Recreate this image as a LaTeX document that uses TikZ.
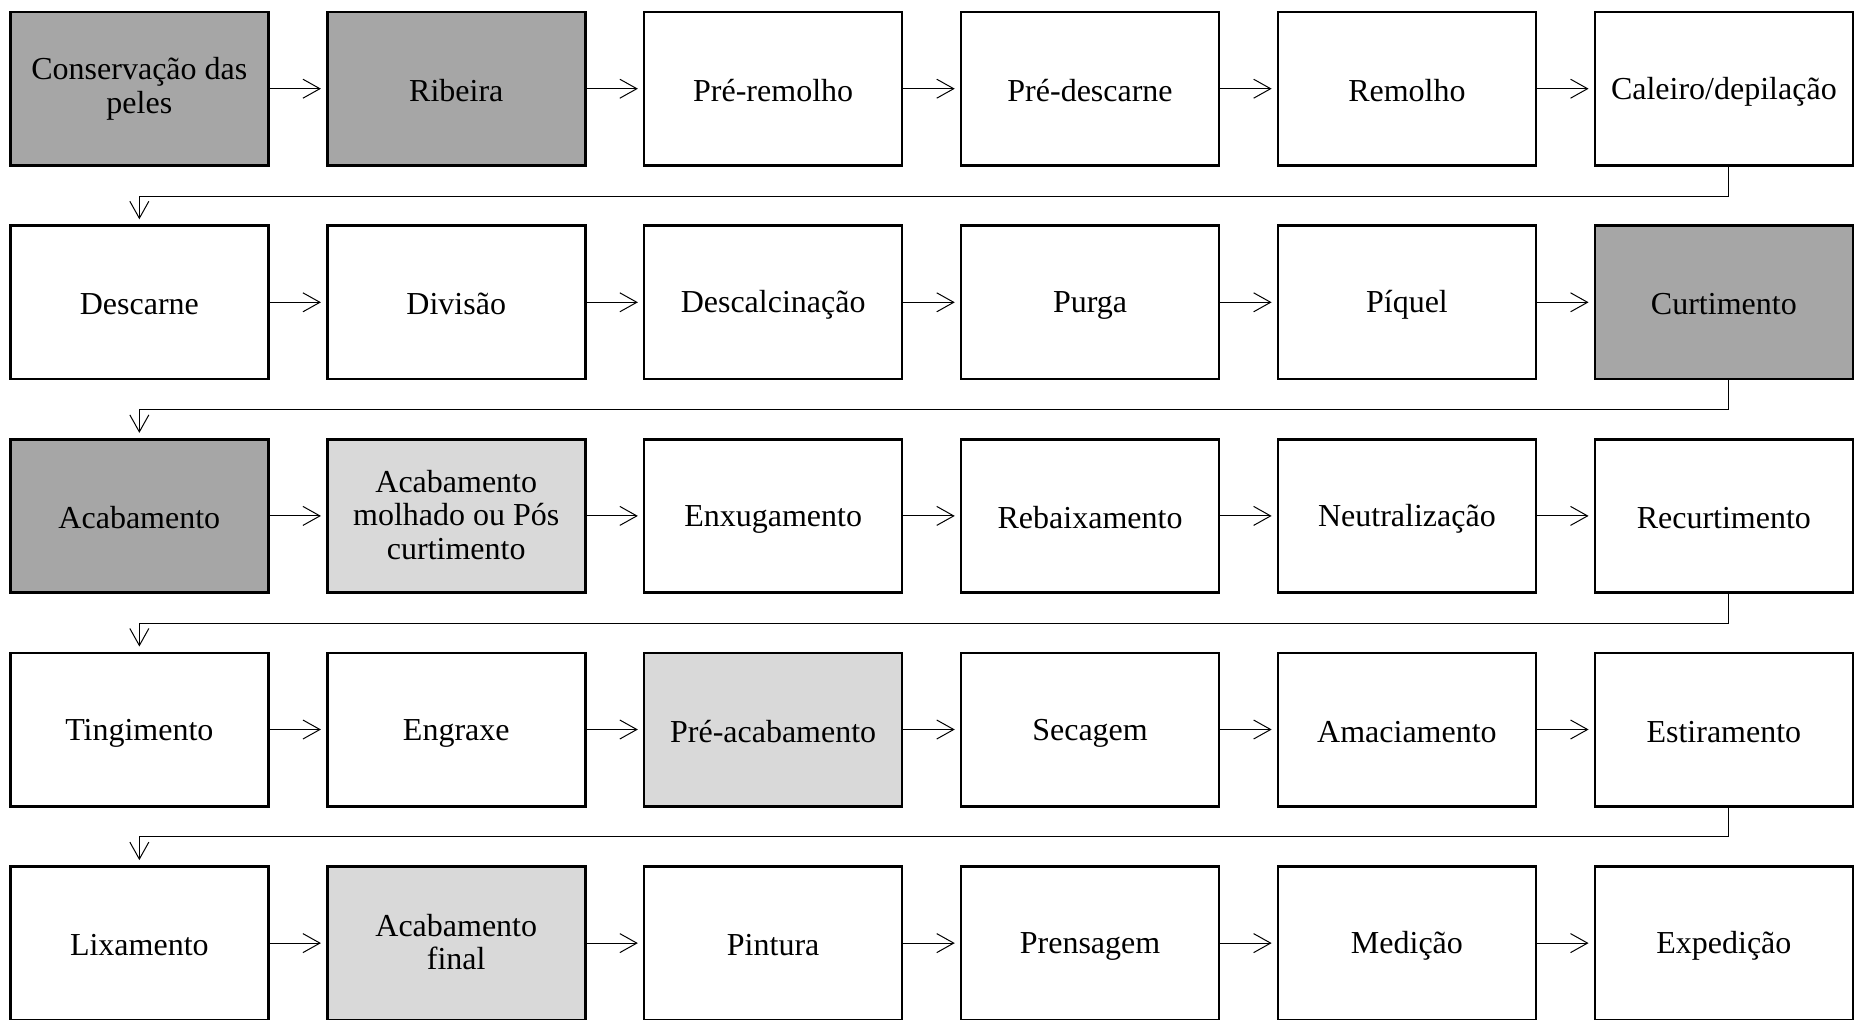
\documentclass[tikz,border=0pt]{standalone}
\usepackage{fontspec}
\setmainfont{Liberation Serif}
\usepackage{tikz}
\usetikzlibrary{calc,arrows.meta,positioning}
\definecolor{cinzaescuro}{HTML}{A6A6A6}
\definecolor{cinzaclaro}{HTML}{D9D9D9}
\newcommand{\apoio}{\rule[-1.4pt]{0pt}{15.4pt}}
\tikzset{
	etapa/.style={draw, line width=1.3pt, minimum width=129pt, minimum height=76.7pt, align=center,
	  font=\fontsize{16pt}{16.8pt}\selectfont, execute at begin node=\apoio, execute at end node=\apoio},
	seta/.style={line width=0.5pt, -{Straight Barb[length=8.5pt,width=9.5pt]}, shorten >=2.5pt},
}

\begin{document}
\begin{tikzpicture}[node distance=28.8pt and 28.15pt]
	    \useasboundingbox (-69.675pt,44.35pt) rectangle ++(929pt,-509.5pt);
	    % ribeira
	    \node[etapa, fill=cinzaescuro] (cons) at (0,0) {Conservação das\\peles};
	    \node[etapa, fill=cinzaescuro, right=of cons] (rib) {Ribeira};
	    \node[etapa, right=of rib] (prerem) {Pré-remolho};
	    \node[etapa, right=of prerem] (predesc) {Pré-descarne};
	    \node[etapa, right=of predesc] (remolho) {Remolho};
	    \node[etapa, right=of remolho] (caleiro) {Caleiro/depilação};
	    \node[etapa, below=of cons] (descarne) {Descarne};
	    \node[etapa, right=of descarne] (divisao) {Divisão};
	    \node[etapa, right=of divisao] (descalc) {Descalcinação};
	    \node[etapa, right=of descalc] (purga) {Purga};
	    \node[etapa, right=of purga] (piquel) {Píquel};
	    \node[etapa, fill=cinzaescuro, right=of piquel] (curt) {Curtimento};
	    % acabamento
	    \node[etapa, fill=cinzaescuro, below=of descarne] (acab) {Acabamento};
	    \node[etapa, fill=cinzaclaro, right=of acab] (acabmol) {Acabamento\\molhado ou Pós\\curtimento};
	    \node[etapa, right=of acabmol] (enxug) {Enxugamento};
	    \node[etapa, right=of enxug] (rebaix) {Rebaixamento};
	    \node[etapa, right=of rebaix] (neutral) {Neutralização};
	    \node[etapa, right=of neutral] (recurt) {Recurtimento};
	    \node[etapa, below=of acab] (ting) {Tingimento};
	    \node[etapa, right=of ting] (engrax) {Engraxe};
	    \node[etapa, fill=cinzaclaro, right=of engrax] (preacab) {Pré-acabamento};
	    \node[etapa, right=of preacab] (secag) {Secagem};
	    \node[etapa, right=of secag] (amac) {Amaciamento};
	    \node[etapa, right=of amac] (estir) {Estiramento};
	    \node[etapa, below=of ting] (lixam) {Lixamento};
	    \node[etapa, fill=cinzaclaro, right=of lixam] (acabfin) {Acabamento\\final};
	    \node[etapa, right=of acabfin] (pint) {Pintura};
	    \node[etapa, right=of pint] (prens) {Prensagem};
	    \node[etapa, right=of prens] (medic) {Medição};
	    \node[etapa, right=of medic] (exped) {Expedição};
	    \foreach \a/\b in {cons/rib, rib/prerem, prerem/predesc, predesc/remolho, remolho/caleiro,
	      descarne/divisao, divisao/descalc, descalc/purga, purga/piquel, piquel/curt,
	      acab/acabmol, acabmol/enxug, enxug/rebaix, rebaix/neutral, neutral/recurt,
	      ting/engrax, engrax/preacab, preacab/secag, secag/amac, amac/estir,
	      lixam/acabfin, acabfin/pint, pint/prens, prens/medic, medic/exped}
	      \draw[seta] (\a) -- (\b);
	    \draw[seta] ($(caleiro.south)+(2.5pt,0)$) -- ++(0,-14.65pt) -| (descarne.north); % volta de linha
	    \draw[seta] ($(curt.south)+(2.5pt,0)$) -- ++(0,-14.65pt) -| (acab.north);
	    \draw[seta] ($(recurt.south)+(2.5pt,0)$) -- ++(0,-14.65pt) -| (ting.north);
	    \draw[seta] ($(estir.south)+(2.5pt,0)$) -- ++(0,-14.65pt) -| (lixam.north);
\end{tikzpicture}
\end{document}
